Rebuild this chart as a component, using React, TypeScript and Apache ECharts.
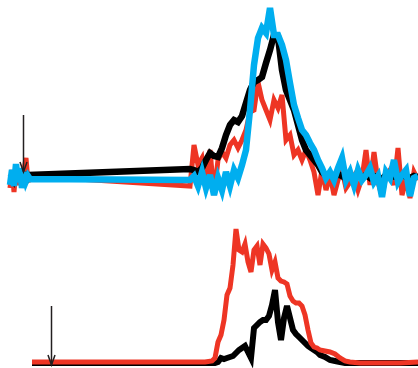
import React, { useEffect, useRef } from "react";
import * as echarts from "echarts";

// ---------- top panel (x in trace units, y = signal) ----------
const topX = [
  10, 12, 14, 16, 18, 20, 22, 24, 26, 28, 30,
  190, 194, 198, 202, 206, 210, 214, 218, 222, 226, 230, 234, 238, 242, 246, 250,
  254, 258, 262, 266, 270, 274, 278, 282, 286, 290, 294, 298, 302, 306, 310, 314,
  318, 322, 326, 330, 334, 338, 342, 346, 350, 354, 358, 362, 366, 370, 374, 378,
  382, 386, 390, 394, 398, 402, 406, 410, 414, 418,
];
const topBlack = [
  22, 24, 20, 25, 22, 23, 21, 24, 25, 22, 25,
  31, 30, 28, 32, 40, 47, 44, 43, 52, 65, 75, 80, 78, 84, 97, 110,
  118, 120, 123, 137, 150, 165, 163, 130, 110, 100, 90, 75, 60, 50, 45, 40,
  35, 28, 24, 26, 22, 26, 24, 21, 25, 22, 24, 23, 25, 22, 24, 23,
  21, 25, 23, 24, 22, 25, 23, 22, 24, 23,
];
const topRed = [
  12, 30, 8, 32, 15, 26, 14, 30, 42, 18, 24,
  14, 55, 35, 42, 14, 50, 5, 40, 48, 42, 55, 60, 52, 60, 70, 88,
  90, 118, 100, 90, 80, 100, 92, 105, 60, 65, 45, 50, 40, 50, 40, 28,
  5, 30, 10, 25, 5, 20, 30, 12, 18, 24, 10, 22, 50, 15, 48, 18,
  4, 24, 30, 15, 52, 5, 20, 2, 28, 20,
];
const topCyan = [
  15, 30, 14, 36, 18, 32, 12, 28, 19, 24, 21,
  20, 24, 14, 28, 12, 25, 5, 22, 10, 28, 14, 30, 22, 35, 50, 90,
  135, 162, 172, 167, 192, 165, 165, 155, 140, 117, 95, 82, 70, 65, 57, 50,
  40, 32, 22, 28, 20, 32, 42, 20, 28, 15, 30, 20, 25, 32, 18, 24,
  3, 28, 22, 40, 18, 25, 30, 4, 22, 24,
];

// ---------- bottom panel ----------
const botX = [
  32, 120, 205, 212, 215, 218, 221, 224, 227, 230, 233, 236, 239, 242, 245, 248,
  251, 254, 257, 260, 263, 266, 269, 272, 275, 278, 281, 284, 287, 290, 293, 296,
  299, 302, 305, 308, 311, 314, 317, 320, 325, 330, 335, 340, 345, 350, 360, 380,
  400, 418,
];
const botRed = [
  6, 6, 6, 7, 10, 26, 33, 48, 73, 80, 103, 139, 118, 116, 124, 106,
  96, 118, 122, 103, 124, 120, 114, 98, 106, 90, 87, 86, 84, 72, 67, 65,
  65, 62, 53, 38, 25, 21, 20, 18, 17, 16, 14, 10, 7, 6, 5, 5,
  5, 6,
];
const botBlack = [
  5, 5, 5, 5, 5, 6, 10, 9, 10, 11, 12, 15, 18, 20, 22, 16,
  10, 40, 43, 46, 48, 48, 52, 63, 78, 46, 28, 50, 62, 50, 38, 34,
  31, 28, 25, 22, 20, 18, 16, 13, 11, 8, 7, 6, 5, 5, 5, 5,
  5, 5,
];

const RED = "#ee3524";
const CYAN = "#00aeef";
const BLACK = "#000000";
const ARROW = "#231f20";

const zip = (xs: number[], ys: number[]) => xs.map((x, i) => [x, ys[i]]);

export default function App() {
  const ref = useRef<HTMLDivElement>(null);
  useEffect(() => {
    const chart = echarts.init(ref.current!, null, { renderer: "svg" });
    const line = (name: string, data: number[][], color: string, width: number, idx: number, z: number) => ({
      name,
      type: "line",
      xAxisIndex: idx,
      yAxisIndex: idx,
      data,
      symbol: "none",
      smooth: false,
      clip: false,
      z,
      lineStyle: { color, width, join: "miter" },
    });
    chart.setOption({
      animation: false,
      grid: [
        { left: 0, right: 0, top: 0, height: 200, outerBoundsMode: "none" },
        { left: 0, right: 0, top: 200, height: 168, outerBoundsMode: "none" },
      ],
      xAxis: [
        { type: "value", gridIndex: 0, min: 0, max: 418, show: false },
        { type: "value", gridIndex: 1, min: 0, max: 418, show: false },
      ],
      yAxis: [
        { type: "value", gridIndex: 0, min: 0, max: 200, show: false },
        { type: "value", gridIndex: 1, min: 0, max: 168, show: false },
      ],
      series: [
        line("top red", zip(topX, topRed), RED, 5, 0, 2),
        line("top black", zip(topX, topBlack), BLACK, 6.5, 0, 3),
        line("top cyan", zip(topX, topCyan), CYAN, 6.5, 0, 4),
        line("bottom black", zip(botX, botBlack), BLACK, 6, 1, 2),
        line("bottom red", zip(botX, botRed), RED, 5, 1, 3),
      ],
      graphic: [
        { type: "line", z: 10, shape: { x1: 23.5, y1: 115, x2: 23.5, y2: 172 }, style: { stroke: ARROW, lineWidth: 1.5 } },
        { type: "polyline", z: 10, shape: { points: [[20, 162], [23.5, 172], [27, 162]] }, style: { stroke: ARROW, lineWidth: 1.5, fill: "none" } },
        { type: "line", z: 10, shape: { x1: 51.5, y1: 306, x2: 51.5, y2: 365 }, style: { stroke: ARROW, lineWidth: 1.5 } },
        { type: "polyline", z: 10, shape: { points: [[48, 355], [51.5, 365], [55, 355]] }, style: { stroke: ARROW, lineWidth: 1.5, fill: "none" } },
      ],
    });
    return () => chart.dispose();
  }, []);
  return <div ref={ref} style={{ position: "fixed", left: 0, top: 0, width: 418, height: 368 }} />;
}
